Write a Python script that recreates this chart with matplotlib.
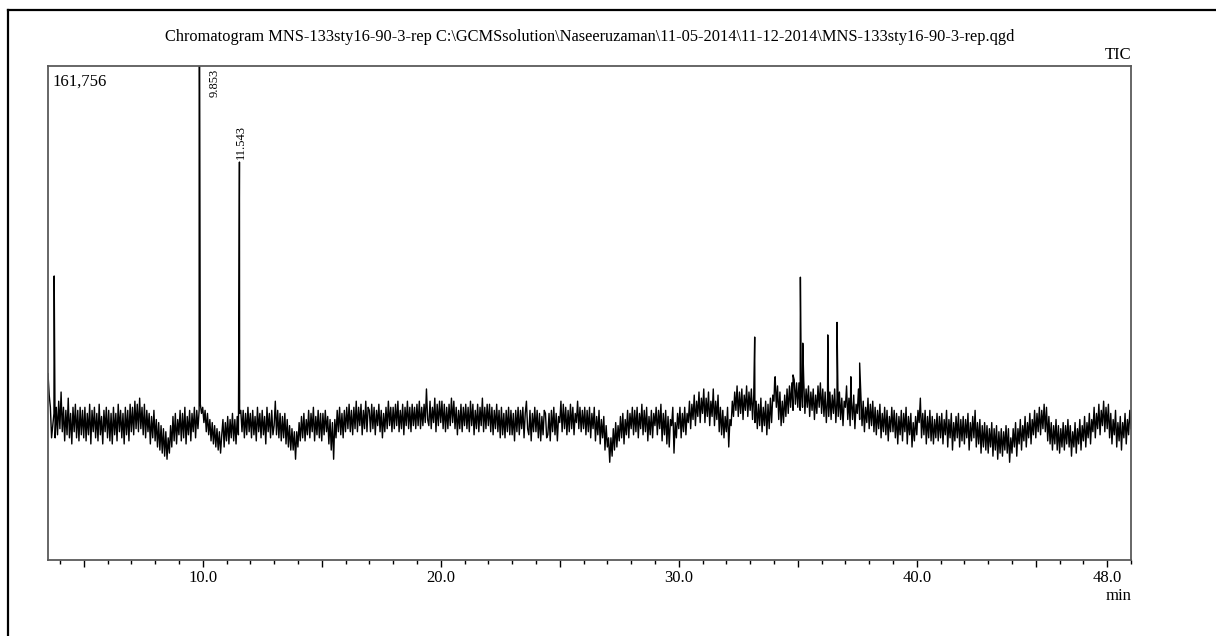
import numpy as np
import matplotlib
matplotlib.use("Agg")
import matplotlib.pyplot as plt
from matplotlib.ticker import FixedLocator, MultipleLocator
from matplotlib.lines import Line2D

# ---------------- data (intensity in thousands of counts) ----------------
t_start = 3.5          # first sample time (min)
t_step = 0.05          # sampling step (min)
rows = [
    [61, 54, 50, 40, 44, 48, 40, 50, 41, 52],
    [43, 55, 42, 50, 39, 49, 41, 53, 40, 48, 38, 50, 42, 51, 40, 49, 39, 50, 41, 49],
    [40, 50, 39, 48, 41, 51, 38, 49, 42, 50, 40, 48, 39, 51, 41, 47, 38, 49, 42, 50],
    [40, 49, 39, 48, 38, 50, 41, 48, 39, 51, 42, 49, 40, 48, 38, 50, 41, 49, 39, 51],
    [42, 50, 41, 52, 43, 51, 42, 53, 43, 50, 41, 51, 40, 49, 42, 48, 38, 47, 40, 49],
    [39, 46, 37, 45, 36, 44, 35, 43, 34, 42, 33, 40, 35, 44, 37, 47, 39, 48, 38, 46],
    [41, 49, 39, 48, 40, 50, 38, 47, 41, 49, 39, 48, 42, 50, 40, 49, 43, 49, 51, 48],
    [50, 45, 49, 42, 48, 41, 46, 39, 45, 38, 44, 37, 43, 36, 42, 35, 41, 46, 37, 45],
    [39, 47, 38, 46, 40, 48, 39, 46, 38, 47, 41, 48, 49, 42, 49, 40, 48, 41, 50, 42],
    [48, 40, 49, 41, 47, 39, 50, 42, 48, 40, 49, 41, 47, 38, 50, 42, 48, 40, 49, 41],
    [44, 52, 41, 49, 40, 48, 39, 47, 40, 48, 38, 46, 37, 44, 36, 43, 36, 42, 33, 42],
    [37, 45, 39, 47, 40, 48, 39, 46, 41, 49, 40, 48, 42, 50, 39, 47, 41, 49, 40, 48],
    [39, 48, 41, 49, 42, 47, 38, 46, 36, 45, 33, 46, 40, 49, 42, 50, 41, 48, 40, 49],
    [42, 50, 43, 51, 42, 49, 41, 50, 43, 52, 42, 50, 44, 51, 41, 49, 43, 52, 42, 50],
    [49, 42, 51, 43, 50, 41, 49, 44, 51, 42, 49, 40, 48, 42, 50, 43, 52, 44, 50, 42],
    [50, 43, 51, 44, 52, 42, 49, 43, 51, 41, 50, 44, 52, 43, 50, 42, 51, 44, 50, 43],
    [51, 44, 52, 43, 50, 44, 51, 45, 56, 46, 44, 52, 43, 50, 45, 53, 42, 51, 44, 52],
    [45, 52, 43, 51, 42, 50, 43, 51, 44, 53, 45, 52, 43, 50, 41, 49, 43, 51, 42, 50],
    [44, 51, 43, 50, 42, 52, 44, 51, 41, 49, 43, 51, 42, 50, 44, 53, 42, 50, 43, 51],
    [44, 51, 42, 50, 41, 49, 43, 51, 42, 49, 40, 50, 41, 48, 40, 49, 42, 50, 41, 49],
    [41, 48, 39, 49, 42, 50, 41, 49, 43, 50, 40, 48, 52, 43, 41, 49, 39, 48, 42, 50],
    [42, 49, 40, 48, 39, 47, 41, 49, 48, 40, 41, 48, 39, 49, 42, 50, 41, 48, 39, 47],
    [45, 52, 42, 51, 43, 50, 41, 49, 42, 51, 43, 50, 41, 48, 45, 52, 43, 50, 42, 49],
    [43, 50, 41, 49, 42, 50, 40, 48, 43, 50, 39, 47, 41, 49, 38, 46, 40, 47, 36, 44],
    [37, 40, 32, 40, 34, 43, 36, 45, 37, 44, 39, 47, 40, 48, 38, 46, 41, 49, 40, 48],
    [43, 50, 41, 49, 42, 50, 40, 48, 43, 51, 41, 49, 42, 50, 39, 47, 41, 49, 40, 48],
    [44, 50, 41, 49, 43, 51, 39, 48, 41, 49, 38, 47, 37, 46, 44, 50, 35, 45, 40, 48],
    [43, 50, 40, 48, 42, 50, 41, 48, 45, 52, 43, 51, 46, 54, 44, 52, 47, 55, 45, 53],
    [48, 56, 45, 53, 47, 55, 44, 52, 47, 56, 44, 52, 46, 54, 42, 50, 41, 49, 40, 47],
    [42, 50, 37, 46, 44, 52, 47, 55, 49, 57, 47, 55, 48, 56, 46, 54, 49, 57, 47, 55],
    [49, 56, 46, 54, 45, 52, 43, 51, 44, 53, 42, 50, 44, 52, 41, 51, 43, 53, 45, 54],
    [52, 60, 50, 57, 46, 55, 44, 52, 45, 54, 47, 56, 48, 57, 50, 58, 49, 59, 51, 58],
    [50, 58, 49, 56, 50, 59, 48, 56, 50, 57, 47, 55, 49, 56, 46, 54, 48, 57, 50, 58],
    [48, 56, 47, 55, 45, 53, 47, 55, 46, 54, 48, 56, 45, 53, 47, 55, 46, 53, 44, 52],
    [50, 57, 46, 53, 44, 52, 46, 54, 43, 51, 48, 56, 46, 54, 44, 52, 42, 50, 45, 53],
    [43, 51, 44, 52, 42, 50, 41, 49, 43, 51, 40, 48, 42, 50, 41, 49, 39, 47, 42, 50],
    [42, 49, 40, 48, 38, 47, 41, 49, 39, 48, 42, 50, 38, 47, 41, 48, 37, 45, 39, 47],
    [41, 49, 45, 53, 40, 48, 41, 49, 38, 47, 40, 49, 39, 47, 38, 46, 40, 48, 39, 47],
    [40, 48, 38, 46, 41, 49, 37, 46, 40, 48, 36, 45, 39, 47, 40, 48, 37, 46, 39, 47],
    [38, 46, 40, 48, 36, 45, 39, 47, 40, 49, 37, 45, 38, 46, 35, 44, 37, 45, 36, 44],
    [35, 43, 37, 45, 34, 43, 36, 44, 33, 42, 35, 43, 34, 42, 36, 44, 35, 43, 32, 40],
    [35, 43, 37, 45, 34, 43, 38, 46, 36, 44, 39, 47, 37, 45, 40, 48, 38, 46, 41, 49],
    [40, 48, 42, 50, 41, 49, 43, 51, 42, 50, 39, 47, 38, 45, 36, 44, 38, 46, 36, 44],
    [35, 43, 37, 45, 36, 44, 38, 46, 37, 44, 34, 42, 37, 45, 35, 43, 38, 46, 36, 44],
    [39, 47, 37, 45, 40, 48, 38, 46, 42, 50, 40, 48, 43, 51, 41, 49, 44, 52, 42, 50],
    [43, 51, 40, 48, 38, 46, 41, 49, 37, 45, 39, 47, 36, 45, 40, 48, 38, 46, 41, 49],
    [43],
]
baseline = [v for r in rows for v in r]
assert len(baseline) == 911, len(baseline)

peak_times = [3.76, 9.853, 11.543, 33.19, 34.03, 34.80, 35.11, 35.21,
              36.26, 36.65, 37.23, 37.60]
peak_heights = [93, 230, 130.3, 73, 59, 60.6, 92.6, 71, 73.7, 77.8, 60, 64.5]
labelled_peaks = ["9.853", "11.543"]
y_max_label = "161,756"
y_max = 161.756
x_tick_values = [5, 10, 15, 20, 25, 30, 35, 40, 45, 48]
x_tick_labels = ["", "10.0", "", "20.0", "", "30.0", "", "40.0", "", "48.0"]
title = (r"Chromatogram MNS-133sty16-90-3-rep C:\GCMSsolution\Naseeruzaman"
         r"\11-05-2014\11-12-2014\MNS-133sty16-90-3-rep.qgd")

# ---------------- build trace ----------------
base_t = t_start + t_step * np.arange(len(baseline))
all_t = np.concatenate([base_t, np.array(peak_times)])
all_v = np.concatenate([np.array(baseline, float), np.array(peak_heights, float)])
order = np.argsort(all_t, kind="stable")
all_t, all_v = all_t[order], all_v[order]

# ---------------- figure ----------------
plt.rcParams["font.family"] = ["Liberation Serif", "DejaVu Serif"]
fig = plt.figure(figsize=(12.16, 6.36), dpi=100)
W, H = 1216, 636

# outer frame (left and top edges visible)
fig.add_artist(Line2D([8 / W, 8 / W], [0, 1 - 10 / H], color="black", lw=1.6,
                      transform=fig.transFigure))
fig.add_artist(Line2D([8 / W, 1], [1 - 10 / H, 1 - 10 / H], color="black", lw=1.6,
                      transform=fig.transFigure))

ax = fig.add_axes([48 / W, 1 - 560 / H, (1131 - 48) / W, (560 - 66) / H])
ax.plot(all_t, all_v, color="black", lw=1.0)
ax.set_xlim(3.5, 49.0)
ax.set_ylim(0, y_max)

for s in ax.spines.values():
    s.set_color("#5a5a5a")
    s.set_linewidth(1.3)

ax.set_yticks([])
ax.xaxis.set_major_locator(FixedLocator(x_tick_values))
ax.set_xticklabels(x_tick_labels)
ax.xaxis.set_minor_locator(MultipleLocator(1))
ax.tick_params(axis="x", which="major", length=5, width=1, color="black",
               labelsize=12, pad=2)
ax.tick_params(axis="x", which="minor", length=3, width=1, color="black")

# texts
fig.text(590 / W, 1 - 37 / H, title, ha="center", va="center", fontsize=11.8)
fig.text(1131 / W, 1 - 55 / H, "TIC", ha="right", va="center", fontsize=12)
fig.text(1131 / W, 1 - 596 / H, "min", ha="right", va="center", fontsize=12)
ax.text(0.004, 0.985, y_max_label, transform=ax.transAxes, ha="left", va="top",
        fontsize=12)

# peak labels
ax.annotate(labelled_peaks[0], xy=(float(labelled_peaks[0]), y_max),
            xytext=(11, -2), textcoords="offset points", rotation=90,
            ha="center", va="top", fontsize=9, annotation_clip=False)
i1 = peak_times.index(float(labelled_peaks[1]))
ax.annotate(labelled_peaks[1], xy=(peak_times[i1], peak_heights[i1]),
            xytext=(1, 2), textcoords="offset points", rotation=90,
            ha="center", va="bottom", fontsize=9)

fig.savefig("out.png", dpi=100)
